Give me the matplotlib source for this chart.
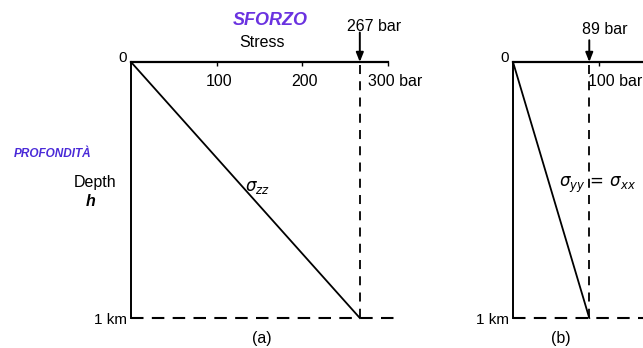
import matplotlib.pyplot as plt

# Stress profiles down to 1 km depth
depth_km = [0.0, 1.0]
sigma_zz = [0.0, 267.0]          # vertical stress, bar
sigma_xx = [0.0, 89.0]           # horizontal stress, bar
ticks_a = [100, 200, 300]
ticks_b = [100]

plt.rcParams['font.family'] = ['Liberation Sans', 'DejaVu Sans']
plt.rcParams['mathtext.fontset'] = 'dejavusans'

W, H = 643, 348
fig = plt.figure(figsize=(W / 100, H / 100), dpi=100)
fig.patch.set_facecolor('white')

PX_PER_BAR = 0.857
TOP, BOT = 62, 318
FS = 11.5


def make_axes(x0_px, xmax):
    ax = fig.add_axes([x0_px / W, 1 - BOT / H, xmax * PX_PER_BAR / W, (BOT - TOP) / H])
    ax.set_xlim(0, xmax)
    ax.set_ylim(1, 0)
    ax.patch.set_alpha(0)
    for s in ['bottom', 'right']:
        ax.spines[s].set_visible(False)
    ax.spines['top'].set_linewidth(1.6)
    ax.spines['left'].set_linewidth(1.4)
    ax.spines['left'].set_bounds(0, 1)
    ax.xaxis.tick_top()
    ax.tick_params(axis='x', direction='in', length=3, width=1, labeltop=False)
    ax.set_yticks([0, 1])
    ax.set_yticklabels(['0', '1 km'], fontsize=FS - 0.5)
    ax.get_yticklabels()[0].set_va('baseline')
    ax.tick_params(axis='y', length=0, pad=3)
    return ax


def draw_panel(ax, sigma, xmax, ticks, tick_labels, bar_shift, arrow_len, lab_dx, lab_y):
    smax = sigma[-1]
    ax.plot(sigma, depth_km, color='black', lw=1.3, clip_on=False)
    ax.plot([smax, smax], [0.01, 1], color='black', lw=1.3, ls=(0, (5, 4)), clip_on=False)
    ax.plot([0, xmax], [1, 1], color='black', lw=1.5, ls=(0, (6, 4)), clip_on=False)
    ax.set_xticks(ticks)
    for t, s in zip(ticks, tick_labels):
        if s.endswith('bar'):
            ax.text(t - bar_shift, 0.075, s, ha='left', va='center', fontsize=FS)
        else:
            ax.text(t + 3, 0.075, s, ha='center', va='center', fontsize=FS)
    ax.annotate('', xy=(smax, 0.0), xytext=(smax, -arrow_len),
                arrowprops=dict(arrowstyle='-|>,head_length=0.55,head_width=0.22',
                                color='black', lw=1.4, shrinkA=0, shrinkB=0),
                annotation_clip=False)
    ax.text(smax - lab_dx, lab_y, f'{smax:.0f} bar',
            ha='left', va='center', fontsize=FS)


ax_a = make_axes(131, 310)
ax_a.spines['top'].set_bounds(0, 300)
draw_panel(ax_a, sigma_zz, 310, ticks_a, ['100', '200', '300 bar'],
           bar_shift=23, arrow_len=0.115, lab_dx=15, lab_y=-0.14)
ax_a.text(148, 0.49, r'$\sigma_{zz}$', ha='center', va='center', fontsize=FS + 0.5)
ax_a.text(153, 1.08, '(a)', ha='center', va='center', fontsize=FS)
ax_a.text(153, -0.077, 'Stress', ha='center', va='center', fontsize=FS)
ax_a.text(162, -0.164, 'SFORZO', ha='center', va='center', fontsize=13,
          color='#6a32e0', fontweight='bold', style='italic')
ax_a.text(-42, 0.47, 'Depth', ha='center', va='center', fontsize=FS)
ax_a.text(-47, 0.545, 'h', ha='center', va='center', fontsize=FS,
          style='italic', fontweight='bold')
ax_a.text(-91, 0.36, "PROFONDITÀ", ha='center', va='center', fontsize=8.5,
          color='#4a2ad8', fontweight='bold', style='italic')

ax_b = make_axes(513, 160)
draw_panel(ax_b, sigma_xx, 160, ticks_b, ['100 bar'],
           bar_shift=13, arrow_len=0.085, lab_dx=9, lab_y=-0.125)
ax_b.text(54, 0.48, r'$\sigma_{yy}\,=\,\sigma_{xx}$', ha='left', va='center', fontsize=FS + 0.5)
ax_b.text(56, 1.08, '(b)', ha='center', va='center', fontsize=FS)

fig.savefig('out.png', dpi=100)
